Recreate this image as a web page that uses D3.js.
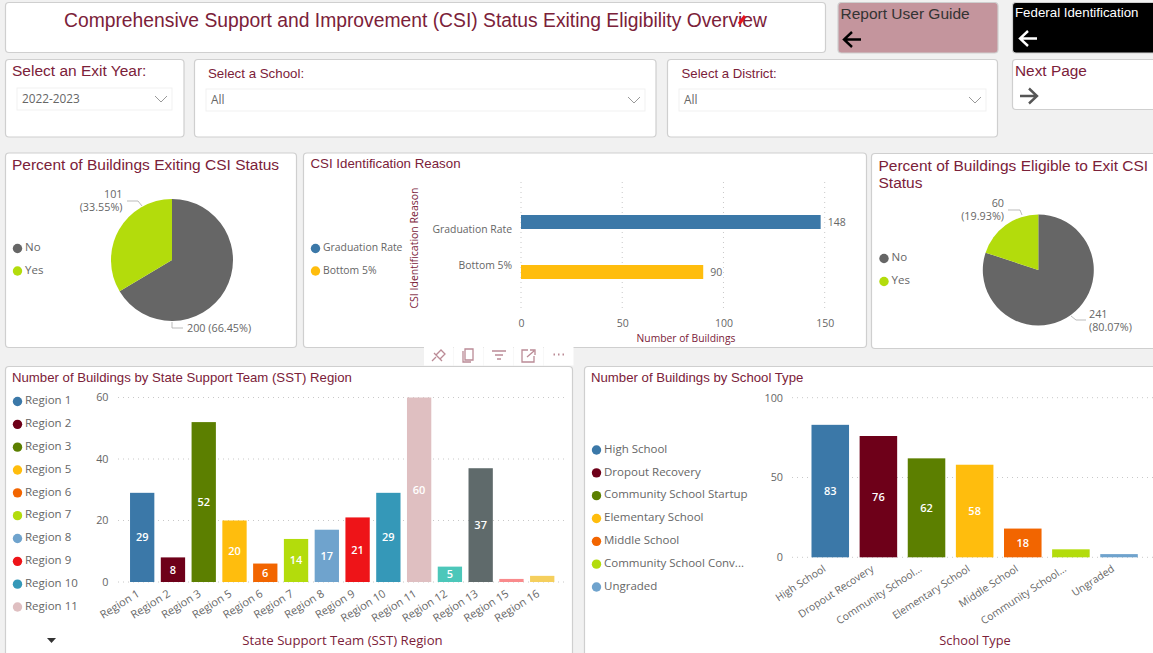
<!DOCTYPE html>
<html>
<head>
<meta charset="utf-8">
<script src="https://d3js.org/d3.v7.min.js"></script>
<style>
  html, body { margin: 0; padding: 0; background: #f1f1f1; overflow: hidden; }
  svg { display: block; }
  text { font-family: "Liberation Sans", Arial, sans-serif; }
</style>
</head>
<body>
<div id="my_dataviz"></div>
<script>

// exit status pies
var pieCategories = ["No", "Yes"];
var exitingValues = [200, 101];
var eligibleValues = [241, 60];
var exitingPercents = ["66.45%", "33.55%"];
var eligiblePercents = ["80.07%", "19.93%"];

// identification reason bars
var reasonCategories = ["Graduation Rate", "Bottom 5%"];
var reasonValues = [148, 90];
var reasonTicks = [0, 50, 100, 150];

// state support team region bars
var regionCategories = ["Region 1", "Region 2", "Region 3", "Region 5", "Region 6", "Region 7", "Region 8", "Region 9", "Region 10", "Region 11", "Region 12", "Region 13", "Region 15", "Region 16"];
var regionValues = [29, 8, 52, 20, 6, 14, 17, 21, 29, 60, 5, 37, 1, 2];
var regionTicks = [0, 20, 40, 60];

// school type bars
var typeLegend = ["High School", "Dropout Recovery", "Community School Startup", "Elementary School", "Middle School", "Community School Conv...", "Ungraded"];
var typeCategories = ["High School", "Dropout Recovery", "Community School...", "Elementary School", "Middle School", "Community School... ", "Ungraded"];
var typeValues = [83, 76, 62, 58, 18, 5, 2];
var typeTicks = [0, 50, 100];

var palette = ["#3b78a8", "#6e0019", "#5c7f00", "#ffbd0d", "#f26500", "#b3dc0c", "#6fa3cd", "#ee1418", "#3598b8", "#dfbfc1", "#4cc7ba", "#5f6a6b", "#f98a8c", "#f5cf5d"];
var pieColors = ["#666666", "#b3dc0c"];

var maroon = "#7b2139", labelGrey = "#666666", uiFont = "'Open Sans', sans-serif";

var svg = d3.select("#my_dataviz")
  .append("svg")
    .attr("width", 1153)
    .attr("height", 653);

function card(x, y, w, h, fill) {
  svg.append("rect")
    .attr("x", x).attr("y", y).attr("width", w).attr("height", h)
    .attr("rx", 3.5)
    .attr("fill", fill || "#fff")
    .attr("stroke", "#cfcfcf")
    .attr("stroke-width", 1.2);
}

function label(x, y, str, size, color, anchor, font) {
  return svg.append("text")
    .attr("x", x).attr("y", y)
    .attr("font-size", size)
    .attr("fill", color)
    .attr("text-anchor", anchor || "start")
    .style("font-family", font || null)
    .text(str);
}

function arrow(x, y, color, dir) {
  // small 18px arrow glyph pointing left (-1) or right (1)
  var tip = dir < 0 ? x : x + 17, tail = dir < 0 ? x + 17 : x, back = tip - dir * 8;
  svg.append("path")
    .attr("d", "M" + tail + "," + y + "L" + tip + "," + y + "M" + back + "," + (y - 7.5) + "L" + tip + "," + y + "L" + back + "," + (y + 7.5))
    .attr("fill", "none").attr("stroke", color).attr("stroke-width", 2.4);
}

function dropdown(x, y, w, str) {
  svg.append("rect").attr("x", x).attr("y", y).attr("width", w).attr("height", 22)
    .attr("fill", "#fff").attr("stroke", "#f1f1f1");
  label(x + 5, y + 15, str, 11.8, "#666", "start", uiFont);
  var cx = x + w - 11;
  svg.append("path")
    .attr("d", "M" + (cx - 6) + "," + (y + 8) + "L" + cx + "," + (y + 14) + "L" + (cx + 6) + "," + (y + 8))
    .attr("fill", "none").attr("stroke", "#999").attr("stroke-width", 1);
}

function legend(x, names, colors, ys, size) {
  names.forEach(function(d, i) {
    svg.append("circle").attr("cx", x + 4.5).attr("cy", ys(i) + 1).attr("r", 4.7).attr("fill", colors[i]);
    label(x + 12, ys(i) + 3.8, d, size || 11.5, labelGrey, "start", uiFont);
  });
}

// top row
card(5.5, 2.5, 820, 50);
label(415.5, 27, "Comprehensive Support and Improvement (CSI) Status Exiting Eligibility Overview", 19.3, maroon, "middle");
svg.append("path").attr("d", "M739,24L745,16").attr("stroke", "#e8141c").attr("stroke-width", 3.2).attr("fill", "none");

card(838, 2.5, 160, 50.5, "#c4959d");
label(840.5, 18.5, "Report User Guide", 15.5, "#333");
arrow(844, 39.5, "#000", -1);

card(1012.5, 2.5, 160, 50.5, "#000");
label(1015, 17, "Federal Identification", 13.3, "#fff");
arrow(1020, 38.5, "#fff", -1);

card(5.5, 59.5, 178.5, 77.5);
label(12, 75.5, "Select an Exit Year:", 15.5, maroon);
dropdown(17, 88, 155, "2022-2023");

card(194.5, 59.5, 461.5, 77.5);
label(208, 78, "Select a School:", 13.3, maroon);
dropdown(206, 89, 439, "All");

card(667.5, 59.5, 330, 77.5);
label(681.5, 78, "Select a District:", 13.2, maroon);
dropdown(679, 89, 307, "All");

card(1012.5, 59.5, 160, 50);
label(1015, 75.5, "Next Page", 15.4, maroon);
arrow(1020, 96, "#555", 1);

// middle row
card(5.5, 153, 291, 194.5);
label(12, 170, "Percent of Buildings Exiting CSI Status", 15.5, maroon);

card(303.5, 153, 563, 194.5);
label(310.5, 168, "CSI Identification Reason", 13.3, maroon);

card(871.5, 153.5, 300, 195);
label(878.5, 171, "Percent of Buildings Eligible to Exit CSI", 15.5, maroon);
label(878.5, 188, "Status", 15.5, maroon);

// bottom row
card(5.5, 366.5, 567, 300);
label(12, 382, "Number of Buildings by State Support Team (SST) Region", 13.2, maroon);

card(584.5, 366.5, 600, 300);
label(591, 382, "Number of Buildings by School Type", 13.2, maroon);

// hover toolbar above the SST card
[424, 454, 484, 514, 544].forEach(function(x) {
  svg.append("rect").attr("x", x).attr("y", 347).attr("width", 29.5).attr("height", 18.5).attr("fill", "#fff");
});
var toolbar = svg.append("g").attr("fill", "none").attr("stroke", "#bb8b96").attr("stroke-width", 1.3);
toolbar.append("path").attr("d", "M432,361L436,357M434,353L442,361M436,355L441,350L445,354L440,359");
toolbar.append("path").attr("d", "M465,349h8v11h-8zM463,351v11h8");
toolbar.append("path").attr("d", "M492,351h14M495,355h8M497,359h4");
toolbar.append("path").attr("d", "M528,350h-6v12h12v-6M527,357l7,-6M530,350h5v5");
toolbar.append("path").attr("d", "M553.5,354.5h1.5M558,354.5h1.5M562.5,354.5h1.5").attr("stroke-width", 2);

// pies
function drawPie(values, percents, cx, cy, r) {
  var arcs = d3.pie().sort(null)(values);
  var arc = d3.arc().innerRadius(0).outerRadius(r);
  svg.append("g")
    .attr("transform", "translate(" + cx + "," + cy + ")")
    .selectAll("path")
    .data(arcs)
    .enter().append("path")
      .attr("d", arc)
      .attr("fill", function(d, i) { return pieColors[i]; });
}

drawPie(exitingValues, exitingPercents, 172, 260, 61);
drawPie(eligibleValues, eligiblePercents, 1038.3, 270, 55.5);

function leader(d) {
  svg.append("path").attr("d", d).attr("fill", "none").attr("stroke", "#aaa").attr("stroke-width", 0.8);
}

var pieFont = 10.8;
label(122.5, 198, exitingValues[1], pieFont, labelGrey, "end", uiFont);
label(122.5, 211, "(" + exitingPercents[1] + ")", pieFont, labelGrey, "end", uiFont);
leader("M127,201H138L142,206");
label(187, 332, exitingValues[0] + " (" + exitingPercents[0] + ")", pieFont, labelGrey, "start", uiFont);
leader("M172,322V328H183");

label(1004, 207, eligibleValues[1], pieFont, labelGrey, "end", uiFont);
label(1004, 220, "(" + eligiblePercents[1] + ")", pieFont, labelGrey, "end", uiFont);
leader("M1008,210H1020L1022,215");
label(1089, 318, eligibleValues[0], pieFont, labelGrey, "start", uiFont);
label(1089, 331, "(" + eligiblePercents[0] + ")", pieFont, labelGrey, "start", uiFont);
leader("M1071,316L1076,320H1086");

legend(13, pieCategories, pieColors, d3.scalePoint().domain([0, 1]).range([247.5, 270]));
legend(879.5, pieCategories, pieColors, d3.scalePoint().domain([0, 1]).range([257.5, 280.5]));

// dotted grid helper
function grid(sel) {
  sel.attr("stroke", "#c8c8c8").attr("stroke-width", 1).attr("stroke-dasharray", "1 4");
}

// horizontal bars: identification reason
var xReason = d3.scaleLinear().domain([0, 150]).range([521, 824.7]);
var yReason = d3.scaleBand().domain(reasonCategories).range([197, 297]).paddingInner(0.72).paddingOuter(0.36);
var yReasonLabel = d3.scalePoint().domain(reasonCategories).range([229.5, 265.5]);

svg.append("g").selectAll("line").data(reasonTicks).enter().append("line")
  .attr("x1", xReason).attr("x2", xReason).attr("y1", 182).attr("y2", 311).call(grid);

svg.append("g")
  .attr("transform", "translate(0,327)")
  .call(d3.axisBottom(xReason).tickValues(reasonTicks).tickSize(0).tickPadding(0))
  .call(function(g) { g.select(".domain").remove(); })
  .selectAll("text").attr("font-size", 10.5).attr("fill", labelGrey).attr("dy", 0).style("font-family", uiFont);

svg.append("g")
  .attr("transform", "translate(512,0)")
  .call(d3.axisLeft(yReasonLabel).tickSize(0).tickPadding(0))
  .call(function(g) { g.select(".domain").remove(); })
  .selectAll("text").attr("font-size", 10.4).attr("fill", labelGrey).attr("dy", "0.32em").style("font-family", uiFont);

svg.append("g").selectAll("rect").data(reasonCategories).enter().append("rect")
  .attr("x", xReason(0))
  .attr("y", function(d) { return yReason(d); })
  .attr("width", function(d, i) { return xReason(reasonValues[i]) - xReason(0); })
  .attr("height", yReason.bandwidth())
  .attr("fill", function(d, i) { return i ? palette[3] : palette[0]; });

reasonCategories.forEach(function(d, i) {
  label(xReason(reasonValues[i]) + 7, yReason(d) + 11, reasonValues[i], 10.5, labelGrey, "start", uiFont);
});

label(0, 0, "CSI Identification Reason", 10.5, maroon, "middle", uiFont)
  .attr("transform", "translate(418,248) rotate(-90)");
label(686, 341.5, "Number of Buildings", 10.3, maroon, "middle", uiFont);

legend(311, reasonCategories, [palette[0], palette[3]], d3.scalePoint().domain([0, 1]).range([247.5, 270]), 10.4);

// vertical bars, shared by the two bottom charts
function columnChart(opts) {
  var x = d3.scaleBand().domain(opts.categories).range(opts.xRange).paddingInner(opts.pad).paddingOuter(opts.pad / 2);
  var y = d3.scaleLinear().domain(opts.yDomain).range(opts.yRange);

  svg.append("g").selectAll("line").data(opts.ticks).enter().append("line")
    .attr("x1", opts.gridX[0]).attr("x2", opts.gridX[1])
    .attr("y1", y).attr("y2", y).call(grid);

  svg.append("g")
    .attr("transform", "translate(" + opts.axisX + ",0)")
    .call(d3.axisLeft(y).tickValues(opts.ticks).tickSize(0).tickPadding(0).tickFormat(d3.format("d")))
    .call(function(g) { g.select(".domain").remove(); })
    .selectAll("text").attr("font-size", 10.8).attr("fill", labelGrey).style("font-family", uiFont);

  svg.append("g")
    .attr("transform", "translate(0," + (opts.yRange[0] + 8.5) + ")")
    .call(d3.axisBottom(x).tickSize(0).tickPadding(0))
    .call(function(g) { g.select(".domain").remove(); })
    .selectAll("text")
      .attr("font-size", opts.tickSize).attr("fill", labelGrey).style("font-family", uiFont)
      .attr("text-anchor", "end").attr("y", 0).attr("dy", "0.55em")
      .attr("transform", "translate(" + opts.tickShift + ",0) rotate(" + opts.tickAngle + ")");

  svg.append("g").selectAll("rect").data(opts.categories).enter().append("rect")
    .attr("x", function(d) { return x(d); })
    .attr("y", function(d, i) { return y(opts.values[i]); })
    .attr("width", x.bandwidth())
    .attr("height", function(d, i) { return y(0) - y(opts.values[i]); })
    .attr("fill", function(d, i) { return palette[i]; });

  // data labels sit mid-bar, only when the bar is tall enough
  svg.append("g").selectAll("text").data(opts.categories).enter().append("text")
    .filter(function(d, i) { return opts.values[i] >= opts.minLabel; })
    .attr("x", function(d) { return x(d) + x.bandwidth() / 2; })
    .attr("y", function(d) { return (y(0) + y(opts.values[opts.categories.indexOf(d)])) / 2 + 4; })
    .attr("text-anchor", "middle")
    .attr("font-size", 11)
    .attr("font-weight", 600)
    .attr("fill", "#fff")
    .style("font-family", uiFont)
    .text(function(d) { return opts.values[opts.categories.indexOf(d)]; });
}

columnChart({
  categories: regionCategories, values: regionValues, ticks: regionTicks,
  yDomain: [0, 60], yRange: [582, 397.5], xRange: [126.8, 557.6], pad: 0.21,
  gridX: [118, 565], axisX: 108.5, minLabel: 5,
  tickSize: 11, tickAngle: -32, tickShift: -5
});

columnChart({
  categories: typeCategories, values: typeValues, ticks: typeTicks,
  yDomain: [0, 100], yRange: [557.3, 397.7], xRange: [806.2, 1143.1], pad: 0.22,
  gridX: [792, 1153], axisX: 783, minLabel: 10,
  tickSize: 10.4, tickAngle: -33, tickShift: -7
});

label(342.5, 644.5, "State Support Team (SST) Region", 13.2, maroon, "middle", uiFont);
label(975, 644.5, "School Type", 12.8, maroon, "middle", uiFont);

legend(13, regionCategories.slice(0, 10), palette, d3.scaleLinear().domain([0, 9]).range([400.5, 606]));
svg.append("path").attr("d", "M47,638H56L51.5,643Z").attr("fill", "#333");

legend(592, typeLegend, palette, d3.scaleLinear().domain([0, 6]).range([449, 586]));

</script>
</body>
</html>
